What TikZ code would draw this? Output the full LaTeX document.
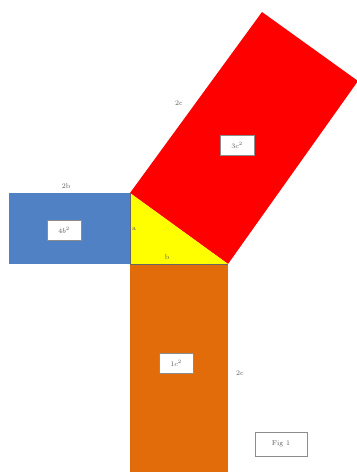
\documentclass[tikz,border=0pt]{standalone}
\definecolor{vlakblauw}{RGB}{79,129,196}
\definecolor{vlakrood}{RGB}{255,0,0}
\definecolor{vlakgeel}{RGB}{255,255,0}
\definecolor{vlakoranje}{RGB}{226,108,10}

\begin{document}
\begin{tikzpicture}[x=1pt, y=-1pt,
    tekst/.style={font=\fontsize{7}{8}\selectfont, text=black!65},
    vakje/.style={tekst, draw=black!45, fill=white, minimum width=34pt, minimum height=20pt, inner sep=0pt}]
    \useasboundingbox (0,0) rectangle (356,476);

    % Hoekpunten van de driehoek
    \coordinate (A) at (130,193);
    \coordinate (C) at (130,264);
    \coordinate (B) at (228,264);
    \coordinate (D) at (262,12);
    \coordinate (E) at (358,81);

    % Vlakken tekenen
    \fill[vlakblauw] (9,193) rectangle (C);
    \fill[vlakoranje] (C) rectangle (228,472);
    \fill[vlakrood] (A) -- (D) -- (E) -- (B) -- cycle;
    \fill[vlakgeel] (A) -- (C) -- (B) -- cycle;
    \draw[black!60, thin] (A) -- (C) -- (B);

    % Zijden benoemen
    \node[tekst] (zijdeTweeB) at (66,186) {2b};
    \node[tekst] (zijdeA) at (134,229) {a};
    \node[tekst] (zijdeB) at (167,257) {b};
    \node[tekst] (zijdeTweeC) at (179,103) {2c};
    \node[tekst] (zijdeOranje) at (240,373) {2c};

    % Oppervlaktes in vakjes
    \node[vakje] (vakBlauw) at (64,230) {$4b^2$};
    \node[vakje] (vakRood) at (237,145) {$3c^2$};
    \node[vakje] (vakOranje) at (176,363) {$1c^2$};

    % Figuurnummer
    \node[vakje, minimum width=52pt, minimum height=24pt] (fig) at (281,444) {Fig 1};
\end{tikzpicture}
\end{document}
